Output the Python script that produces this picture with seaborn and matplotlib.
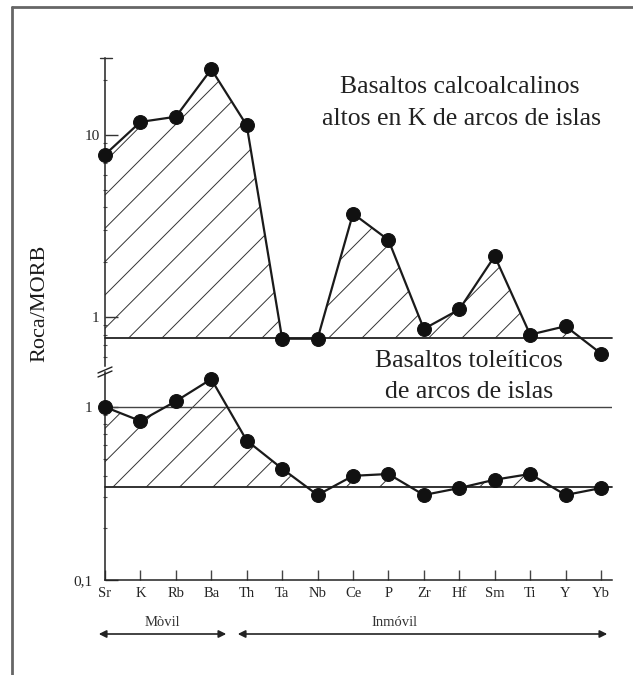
import numpy as np
import pandas as pd
import matplotlib
matplotlib.use("Agg")
import matplotlib.pyplot as plt
from matplotlib.ticker import FixedLocator, LogLocator, NullFormatter
from matplotlib.lines import Line2D
from matplotlib.patches import FancyArrowPatch
import seaborn as sns

# ---- data ----
elements = ["Sr", "K", "Rb", "Ba", "Th", "Ta", "Nb", "Ce", "P", "Zr", "Hf", "Sm", "Ti", "Y", "Yb"]
calcalk_vals = [7.8, 11.8, 12.6, 23.0, 11.3, 0.76, 0.76, 3.7, 2.65, 0.86, 1.1, 2.16, 0.80, 0.89, 0.63]
tholeiite_vals = [1.0, 0.83, 1.08, 1.45, 0.64, 0.44, 0.31, 0.40, 0.41, 0.31, 0.34, 0.38, 0.41, 0.31, 0.34]
calcalk_base = 0.77
tholeiite_base = 0.345
tholeiite_ref = 1.0
upper_ticks = [1, 10]
upper_ticklabels = ["1", "10"]
lower_ticks = [0.1, 1]
lower_ticklabels = ["0,1", "1"]
label_upper = "Basaltos calcoalcalinos\naltos en K de arcos de islas"
label_lower = "Basaltos toleíticos\nde arcos de islas"
ylabel = "Roca/MORB"
mobile_label = "Mòvil"
immobile_label = "Inmóvil"

W, H = 633, 675
sns.set_theme(style="white")
plt.rcParams["font.family"] = ["Liberation Serif", "DejaVu Serif"]
plt.rcParams["hatch.linewidth"] = 0.7

fig = plt.figure(figsize=(W / 100, H / 100), dpi=100)
fig.patch.set_facecolor("white")

def fx(px):
    return px / W

def fy(py):
    return 1 - py / H

# axes geometry (pixels)
xl, xr = 105, 612
up_top, up_bot = 58, 366
lo_top, lo_bot = 372, 580

ax_up = fig.add_axes([fx(xl), fy(up_bot), fx(xr) - fx(xl), (up_bot - up_top) / H])
ax_lo = fig.add_axes([fx(xl), fy(lo_bot), fx(xr) - fx(xl), (lo_bot - lo_top) / H])

pos = np.arange(len(elements))
df_up = pd.DataFrame({"pos": pos, "value": calcalk_vals, "el": elements})
df_lo = pd.DataFrame({"pos": pos, "value": tholeiite_vals, "el": elements})

xmax = (xr - xl) / ((601 - 105) / 14)

for ax, df, base in [(ax_up, df_up, calcalk_base), (ax_lo, df_lo, tholeiite_base)]:
    ax.set_yscale("log")
    ax.set_xlim(0, xmax)
    v = df["value"].to_numpy()
    ax.fill_between(df["pos"], v, base, where=v >= base, interpolate=True,
                    facecolor="none", edgecolor="#333333", hatch="/", linewidth=0)
    ax.axhline(base, color="#222222", lw=1.3, zorder=2)
    sns.lineplot(data=df, x="pos", y="value", ax=ax, color="#1a1a1a", lw=1.6,
                 marker="o", markersize=10, markeredgecolor="#111111",
                 markerfacecolor="#111111", estimator=None, sort=False, zorder=4)
    for line in ax.lines:
        line.set_clip_on(False)
    ax.set_xlabel("")
    ax.set_ylabel("")
    ax.set_facecolor("none")
    for s in ["top", "right"]:
        ax.spines[s].set_visible(False)
    ax.spines["left"].set_color("#222222")
    ax.spines["left"].set_linewidth(1.1)
    ax.yaxis.set_minor_locator(LogLocator(base=10, subs=np.arange(2, 10)))
    ax.yaxis.set_minor_formatter(NullFormatter())
    ax.tick_params(axis="y", which="major", direction="in", length=9, width=1,
                   color="#333333", labelsize=11, pad=4, left=True)
    ax.tick_params(axis="y", which="minor", direction="inout", length=3, width=0.8,
                   color="#555555", left=True)

ax_lo.axhline(tholeiite_ref, color="#444444", lw=1.0, zorder=2)

# upper panel y axis
ax_up.set_ylim(10 ** (-(up_bot - 317) / 182), 10 ** (1 + (135 - up_top) / 182))
ax_up.yaxis.set_major_locator(FixedLocator(upper_ticks))
ax_up.set_yticklabels(upper_ticklabels)
ax_up.spines["bottom"].set_visible(False)
ax_up.tick_params(axis="x", bottom=False, labelbottom=False)

# lower panel y axis
ax_lo.set_ylim(0.1, 10 ** ((407 - lo_top) / 173))
ax_lo.yaxis.set_major_locator(FixedLocator(lower_ticks))
ax_lo.set_yticklabels(lower_ticklabels)
ax_lo.tick_params(axis="y", which="major", pad=9)
ax_lo.spines["bottom"].set_color("#222222")
ax_lo.spines["bottom"].set_linewidth(1.1)
ax_lo.set_xticks(pos)
ax_lo.set_xticklabels(elements)
ax_lo.tick_params(axis="x", which="major", direction="in", length=7, width=1,
                  color="#444444", labelsize=10.5, pad=5, bottom=True)

# cap tick at the top of upper axis
fig.add_artist(Line2D([fx(100), fx(112)], [fy(up_top), fy(up_top)], color="#333333", lw=1))

# axis break marks
for dy in (0, 4):
    fig.add_artist(Line2D([fx(98), fx(112)], [fy(373 + dy), fy(367 + dy)], color="#222222", lw=1))

# y label
fig.text(fx(40), fy(303), ylabel, rotation=90, ha="center", va="center", fontsize=16, color="#1a1a1a")

# annotations
l1, l2 = label_upper.split("\n")
fig.text(fx(460), fy(93), l1, ha="center", va="baseline", fontsize=18.5, color="#222222")
fig.text(fx(462), fy(125), l2, ha="center", va="baseline", fontsize=18.5, color="#222222")
m1, m2 = label_lower.split("\n")
fig.text(fx(469), fy(367), m1, ha="center", va="baseline", fontsize=18.5, color="#222222")
fig.text(fx(469), fy(398), m2, ha="center", va="baseline", fontsize=18.5, color="#222222")

# mobility arrows
fig.add_artist(FancyArrowPatch((fx(96), fy(634)), (fx(229), fy(634)), transform=fig.transFigure,
                               arrowstyle="<|-|>", mutation_scale=11, lw=1.2, color="#222222"))
fig.add_artist(FancyArrowPatch((fx(235), fy(634)), (fx(610), fy(634)), transform=fig.transFigure,
                               arrowstyle="<|-|>", mutation_scale=11, lw=1.2, color="#222222"))
fig.text(fx(162), fy(623), mobile_label, ha="center", va="center", fontsize=10.5, color="#333333")
fig.text(fx(395), fy(623), immobile_label, ha="center", va="center", fontsize=10.5, color="#333333")

# scanned page border (top and left)
fig.add_artist(Line2D([fx(12), fx(633)], [fy(7), fy(7)], color="#666666", lw=2))
fig.add_artist(Line2D([fx(12), fx(12)], [fy(7), fy(675)], color="#666666", lw=2))

fig.savefig("out.png", dpi=100)
